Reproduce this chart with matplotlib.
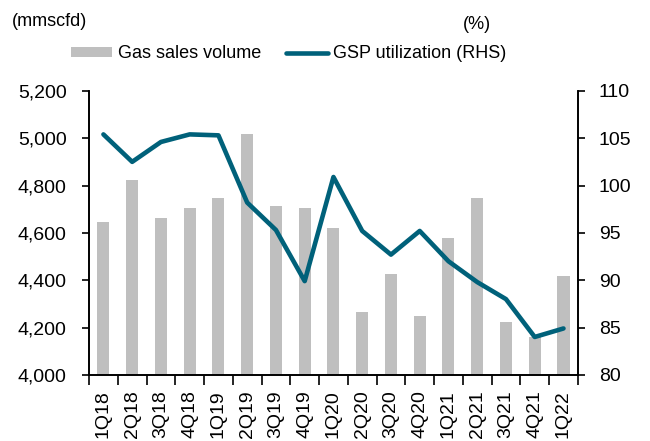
import matplotlib.pyplot as plt
import numpy as np

plt.rcParams['font.family'] = ['Liberation Sans', 'DejaVu Sans']

quarters = ["1Q18", "2Q18", "3Q18", "4Q18", "1Q19", "2Q19", "3Q19", "4Q19",
            "1Q20", "2Q20", "3Q20", "4Q20", "1Q21", "2Q21", "3Q21", "4Q21", "1Q22"]
gas_sales = [4645, 4823, 4662, 4705, 4747, 5018, 4713, 4705,
             4620, 4264, 4426, 4248, 4578, 4747, 4222, 4158, 4416]
gsp_util = [105.4, 102.5, 104.6, 105.4, 105.3, 98.2, 95.3, 89.9,
            100.9, 95.2, 92.7, 95.2, 92.0, 89.8, 88.0, 84.0, 84.9]

bar_color = '#BFBFBF'
line_color = '#00617A'

fig = plt.figure(figsize=(6.5, 4.41), dpi=100)
ax = fig.add_subplot(111)
ax2 = ax.twinx()

X = np.arange(len(quarters))
bars = ax.bar(X, gas_sales, width=0.42, color=bar_color, label="Gas sales volume", zorder=1)
line, = ax2.plot(X, gsp_util, color=line_color, linewidth=3.3, solid_capstyle='round',
                 label="GSP utilization (RHS)", zorder=3)

ax.set_xlim(-0.5, len(quarters) - 0.5)
ax.set_ylim(4000, 5200)
ax.set_yticks(np.arange(4000, 5201, 200))
ax.set_yticklabels(["{:,}".format(v) for v in range(4000, 5201, 200)], fontsize=14)
ax2.set_ylim(80, 110)
ax2.set_yticks(np.arange(80, 111, 5))
ax2.set_yticklabels([str(v) for v in range(80, 111, 5)], fontsize=14)

# ticks on category boundaries, labels at centres
ax.set_xticks(np.arange(-0.5, len(quarters), 1.0))
ax.set_xticklabels([])
ax.set_xticks(X, minor=True)
ax.set_xticklabels(quarters, minor=True, rotation=90, fontsize=14)
ax.tick_params(axis='x', which='minor', length=0, pad=11)
ax.tick_params(axis='x', which='major', length=7, width=1.2, direction='out')
ax.tick_params(axis='y', length=5, width=1.2, direction='out', pad=11)
ax2.tick_params(axis='y', length=5, width=1.2, direction='out', pad=10)

for a in (ax, ax2):
    a.spines['top'].set_visible(False)
    for s in ('left', 'right', 'bottom'):
        a.spines[s].set_linewidth(1.2)
ax2.set_zorder(ax.get_zorder() + 1)
ax2.patch.set_visible(False)

fig.text(0.018, 0.952, "(mmscfd)", fontsize=13, ha='left', va='center')
fig.text(0.755, 0.945, "(%)", fontsize=13, ha='right', va='center')

fig.legend([bars, line], ["Gas sales volume", "GSP utilization (RHS)"], ncol=2,
           loc='center', bbox_to_anchor=(0.444, 0.878), frameon=False, fontsize=13,
           handlelength=2.3, handletextpad=0.3, columnspacing=1.4, handleheight=0.5)

plt.subplots_adjust(left=0.137, right=0.889, top=0.794, bottom=0.150)
plt.savefig("out.png", dpi=100)
